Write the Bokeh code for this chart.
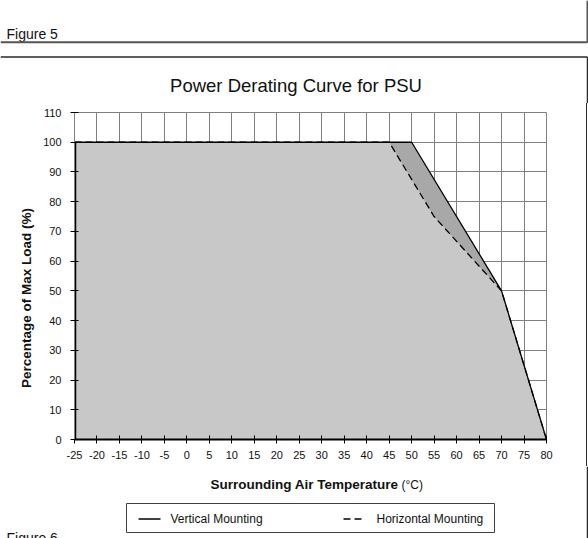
import math
from bokeh.plotting import figure
from bokeh.layouts import column, row
from bokeh.models import Range1d, FixedTicker
from bokeh.core.properties import value
from bokeh.embed import file_html
from bokeh.resources import INLINE

# ---- data -------------------------------------------------------------
temps_vertical = [-25, 50, 70, 80]
load_vertical = [100, 100, 50, 0]
temps_horizontal = [-25, 45, 55, 70, 80]
load_horizontal = [100, 100, 75, 50, 0]
x_ticks = [-25, -20, -15, -10, -5, 0, 5, 10, 15, 20, 25, 30, 35, 40, 45,
           50, 55, 60, 65, 70, 75, 80]
x_tick_labels = ["-25", "-20", "-15", "-10", "-5", "0", "5", "10", "15", "20",
                 "25", "30", "35", "40", "45", "50", "55", "60", "65", "70",
                 "75", "80"]
y_ticks = [0, 10, 20, 30, 40, 50, 60, 70, 80, 90, 100, 110]
y_tick_labels = ["0", "10", "20", "30", "40", "50", "60", "70", "80", "90",
                 "100", "110"]
captions = ["Figure 5", "Figure 6"]
title_text = "Power Derating Curve for PSU"
x_title = "Surrounding Air Temperature"
x_unit = "(°C)"
y_title = "Percentage of Max Load (%)"
series_names = ["Vertical Mounting", "Horizontal Mounting"]

FONT = "Liberation Sans"
TXT = "#111111"
DASH = "7 4"
EDGE = "#2a2a2a"
W = 588


def strip(w, h, top_b=0, bot_b=0):
    """A figure whose frame spans its canvas (minus borders); y from the top."""
    f = figure(width=w, height=h, x_range=Range1d(0, w),
               y_range=Range1d(h - bot_b, top_b),
               output_backend="svg", toolbar_location=None,
               x_axis_location=None, y_axis_location=None,
               min_border_left=0, min_border_right=0, min_border_top=top_b,
               min_border_bottom=bot_b)
    f.outline_line_color = None
    f.background_fill_color = "white"
    f.border_fill_color = "white"
    f.grid.visible = False
    return f


# ---- top strip: caption, boxes, title ----------------------------------
T_H = 103
top = strip(W, T_H)
top.text(x=[6], y=[33], text=[captions[0]], text_font=value(FONT),
         text_font_size=value("14px"), text_color=TXT, text_baseline="alphabetic")
top.segment(x0=[0, 587], y0=[41.7, 0], x1=[587, 587], y1=[41.7, 41.7],
            line_color="#555555", line_width=2)
top.segment(x0=[0, 587], y0=[56.5, 56.5], x1=[587, 587], y1=[56.5, T_H],
            line_color=EDGE, line_width=1.5)
top.text(x=[295.5], y=[85], text=[title_text], text_font=value(FONT),
         text_font_size=value("18.5px"), text_color=TXT, text_align="center",
         text_baseline="middle")

# ---- middle row --------------------------------------------------------------
M_H = 363
M_TOP, M_BOT = 9, 27
L_W = 38
left = strip(L_W, M_H, M_TOP, M_BOT)
left.text(x=[26], y=[194.5], text=[y_title], text_font=value(FONT),
          text_font_size=value("13.5px"), text_font_style="bold", angle=math.pi / 2,
          text_color=TXT, text_align="center", text_baseline="middle")

p = figure(width=W - L_W - 2, height=M_H, x_range=Range1d(-25, 80),
           y_range=Range1d(0, 110), output_backend="svg", toolbar_location=None,
           min_border_left=36, min_border_right=W - L_W - 2 - 36 - 472,
           min_border_top=M_TOP, min_border_bottom=M_BOT)
p.title.text = ""
p.background_fill_color = "white"
p.border_fill_color = "white"
p.outline_line_color = "#808080"
p.outline_line_width = 1

p.patch(temps_vertical + [temps_vertical[0]], load_vertical + [0],
        fill_color="#A8A8A8", line_color=None)
p.patch(temps_horizontal + [temps_horizontal[0]], load_horizontal + [0],
        fill_color="#C8C8C8", line_color=None)
# left edge of the filled area
p.line([temps_vertical[0], temps_vertical[0]], [0, load_vertical[0]],
       line_color="black", line_width=3.5)
p.line(temps_horizontal, load_horizontal, line_color="black",
       line_width=1.3, line_dash=DASH)
p.line(temps_vertical, load_vertical, line_color="black", line_width=1.3)

for ax, ticks, labels in ((p.xaxis[0], x_ticks, x_tick_labels),
                          (p.yaxis[0], y_ticks, y_tick_labels)):
    ax.ticker = FixedTicker(ticks=ticks)
    ax.major_label_overrides = dict(zip(ticks, labels))
    ax.major_tick_line_color = "black"
    ax.major_tick_line_width = 1
    ax.major_tick_in = 4
    ax.major_tick_out = 4
    ax.minor_tick_line_color = None
    ax.major_label_text_font = FONT
    ax.major_label_text_font_size = "11px"
    ax.major_label_text_color = TXT
p.xaxis.axis_line_color = "black"
p.xaxis.axis_line_width = 2
p.yaxis.axis_line_color = "#808080"
p.yaxis.axis_line_width = 1
p.xaxis.major_label_standoff = 7
p.yaxis.major_label_standoff = 9

for g in (p.xgrid[0], p.ygrid[0]):
    g.grid_line_color = "#808080"
    g.grid_line_width = 1
p.xgrid.ticker = FixedTicker(ticks=x_ticks)
p.ygrid.ticker = FixedTicker(ticks=y_ticks)

middle = row(left, p)
middle.styles = {"border-right": "1.5px solid " + EDGE}

# ---- bottom strip: x title, legend, next caption ---------------------------
B_H = 538 - T_H - M_H
bottom = strip(W, B_H)
bottom.text(x=[398], y=[18], text=[x_title], text_font=value(FONT),
            text_font_size=value("13.5px"), text_font_style="bold", text_color=TXT,
            text_align="right", text_baseline="middle")
bottom.text(x=[401], y=[18.5], text=[x_unit], text_font=value(FONT),
            text_font_size=value("12px"), text_color=TXT,
            text_align="left", text_baseline="middle")
bottom.quad(left=[126], right=[494], top=[37], bottom=[66],
            fill_color="white", line_color="#404040", line_width=1)
bottom.segment(x0=[138], y0=[52.5], x1=[160], y1=[52.5], line_color="black",
               line_width=1.3)
bottom.segment(x0=[343], y0=[52.5], x1=[365], y1=[52.5], line_color="black",
               line_width=1.3, line_dash=DASH)
bottom.text(x=[170, 376], y=[52.5, 52.5], text=series_names, text_font=value(FONT),
            text_font_size=value("12px"), text_color=TXT, text_baseline="middle")
bottom.segment(x0=[587], y0=[0], x1=[587], y1=[B_H], line_color=EDGE, line_width=1.5)
bottom.text(x=[6], y=[B_H - 0.5], text=[captions[1]], text_font=value(FONT),
            text_font_size=value("14px"), text_color=TXT, text_baseline="alphabetic")

layout = column(top, middle, bottom)
open("out.html", "w").write(file_html(layout, INLINE))
